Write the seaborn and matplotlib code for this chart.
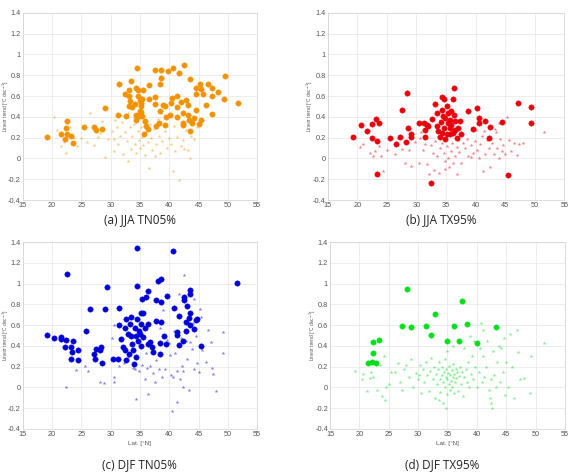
import matplotlib
matplotlib.use("Agg")
import matplotlib.pyplot as plt
import pandas as pd
import seaborn as sns

# (lat, trend) pairs, significant = big dots
jja_tn05_sig = [
    (19.1, 0.21), (21.6, 0.23), (22.2, 0.19), (22.4, 0.29), (22.5, 0.36), (22.5, 0.23),
    (23.3, 0.22), (23.5, 0.15), (25.5, 0.30), (27.2, 0.30), (27.5, 0.27), (28.5, 0.28),
    (29.1, 0.48), (31.2, 0.42), (31.4, 0.72), (32.5, 0.62), (32.7, 0.41), (33.4, 0.74),
    (33.2, 0.66), (33.2, 0.60), (33.3, 0.55), (33.2, 0.50), (33.6, 0.49), (34.2, 0.52),
    (34.4, 0.68), (34.6, 0.66), (34.5, 0.87), (34.4, 0.42), (34.4, 0.37), (34.7, 0.60),
    (35.0, 0.56), (35.2, 0.50), (35.2, 0.45), (35.4, 0.41), (35.0, 0.46), (34.9, 0.41),
    (35.5, 0.66), (35.3, 0.57), (35.2, 0.53), (35.7, 0.23), (35.9, 0.36), (36.1, 0.31),
    (36.3, 0.28), (36.5, 0.71), (36.5, 0.57), (37.5, 0.52), (37.6, 0.59), (37.6, 0.85),
    (37.8, 0.31), (38.3, 0.34), (38.4, 0.46), (38.6, 0.85), (38.6, 0.77), (38.4, 0.72),
    (39.0, 0.51), (39.2, 0.32), (39.3, 0.50), (39.5, 0.40), (39.8, 0.84), (40.1, 0.42),
    (40.3, 0.53), (40.5, 0.58), (40.6, 0.87), (41.3, 0.60), (41.4, 0.49), (41.4, 0.40),
    (41.7, 0.82), (42.0, 0.54), (42.3, 0.44), (42.3, 0.34), (42.4, 0.32), (42.6, 0.90),
    (42.9, 0.56), (43.2, 0.51), (43.2, 0.42), (43.4, 0.37), (43.5, 0.26), (43.6, 0.76),
    (43.9, 0.34), (44.3, 0.39), (44.5, 0.68), (44.6, 0.62), (44.6, 0.47), (45.1, 0.33),
    (45.3, 0.72), (45.5, 0.67), (45.7, 0.62), (45.5, 0.37), (46.3, 0.51), (46.7, 0.72),
    (47.3, 0.68), (47.3, 0.60), (47.3, 0.43), (48.3, 0.64), (49.3, 0.57), (49.5, 0.79),
    (51.7, 0.53),
]
jja_tn05_ns = [
    (20.3, 0.40), (20.8, 0.27), (21.5, 0.12), (22.4, 0.05), (23.0, 0.30), (23.8, 0.20),
    (24.3, 0.12), (26.0, 0.16), (26.4, 0.44), (27.1, 0.13), (27.8, 0.21), (28.5, 0.36),
    (29.0, 0.01), (30.3, 0.26), (30.5, 0.07), (30.5, 0.19), (31.0, 0.30), (31.3, 0.14),
    (31.6, 0.22), (32.0, 0.35), (32.1, 0.04), (32.5, 0.25), (32.8, 0.17), (33.0, -0.02),
    (33.3, 0.30), (33.5, 0.09), (33.7, 0.22), (34.0, 0.33), (34.2, 0.14), (34.4, 0.05),
    (34.6, 0.26), (34.8, 0.18), (35.0, 0.10), (35.2, 0.30), (35.4, 0.21), (35.6, 0.13),
    (35.8, 0.03), (36.0, 0.25), (36.3, 0.16), (36.6, -0.09), (36.9, 0.20), (37.1, 0.08),
    (37.4, 0.28), (37.8, 0.14), (38.2, 0.22), (38.5, 0.05), (38.8, 0.17), (39.2, 0.26),
    (39.6, 0.10), (40.0, 0.20), (40.3, 0.14), (40.6, -0.12), (41.0, 0.07), (41.3, 0.21),
    (41.6, -0.21), (42.0, 0.12), (42.3, 0.18), (42.8, 0.27), (43.2, 0.08), (43.5, 0.00),
    (43.8, 0.22), (44.3, 0.19), (44.7, 0.30), (45.2, 0.33), (35.5, 0.35), (34.0, 0.40),
    (36.8, 0.33), (31.8, 0.42), (33.0, 0.44), (29.5, 0.19), (28.2, 0.24), (25.0, 0.20),
    (22.0, 0.16), (38.0, 0.38), (40.8, 0.31), (42.5, 0.09), (30.8, 0.37), (37.5, 0.02),
]

jja_tx95_sig = [
    (19.3, 0.21), (20.6, 0.32), (21.6, 0.26), (22.4, 0.20), (22.5, 0.33), (23.2, 0.38),
    (23.3, 0.17), (23.7, 0.34), (23.4, -0.15), (25.6, 0.20), (26.5, 0.14), (27.3, 0.21),
    (27.6, 0.47), (28.4, 0.63), (28.3, 0.16), (28.6, 0.29), (29.1, 0.23), (29.1, 0.21),
    (30.5, 0.34), (31.3, 0.34), (31.5, 0.27), (31.5, 0.21), (31.8, 0.32), (32.0, 0.31),
    (32.4, -0.24), (32.6, 0.38), (33.1, 0.52), (33.4, 0.44), (33.5, 0.31), (33.7, 0.26),
    (33.9, 0.21), (34.1, 0.35), (34.3, 0.47), (34.4, 0.59), (34.5, 0.41), (34.7, 0.57),
    (34.7, 0.29), (34.9, 0.39), (35.1, 0.23), (35.2, 0.50), (35.3, 0.34), (35.4, 0.44),
    (35.6, 0.29), (35.7, 0.37), (35.8, 0.46), (35.9, 0.32), (36.1, 0.24), (36.2, 0.57),
    (36.4, 0.68), (36.4, 0.42), (36.5, 0.36), (36.6, 0.27), (36.8, 0.20), (37.1, 0.29),
    (37.4, 0.36), (37.6, 0.23), (38.7, 0.46), (39.6, 0.28), (40.2, 0.48), (40.5, 0.39),
    (40.6, 0.34), (41.6, 0.36), (42.2, 0.20), (42.5, 0.30), (44.5, 0.35), (45.5, -0.16),
    (47.2, 0.53), (49.3, 0.49), (49.3, 0.34), (34.3, 0.24), (34.8, 0.19), (35.6, 0.23),
]
jja_tx95_ns = [
    (20.4, 0.11), (21.0, 0.14), (22.1, 0.05), (22.6, 0.02), (23.6, 0.12), (24.0, 0.02),
    (24.4, -0.12), (25.1, 0.08), (26.3, 0.04), (26.8, 0.20), (27.5, 0.09), (28.1, -0.04),
    (29.0, -0.07), (29.8, 0.16), (30.4, -0.04), (30.6, 0.20), (31.1, 0.08), (31.4, 0.14),
    (31.8, -0.05), (32.2, -0.15), (32.5, 0.13), (32.8, 0.05), (33.0, -0.11), (33.2, 0.17),
    (33.5, 0.02), (33.8, -0.14), (34.0, 0.10), (34.3, 0.15), (34.6, 0.05), (34.9, -0.02),
    (35.1, 0.12), (35.3, 0.00), (35.5, -0.08), (35.8, 0.07), (36.0, 0.15), (36.2, -0.04),
    (36.5, 0.02), (36.8, 0.11), (37.2, 0.06), (37.5, -0.04), (37.9, 0.15), (38.2, 0.10),
    (38.5, 0.19), (38.8, 0.02), (39.2, 0.13), (39.5, 0.05), (39.9, 0.17), (40.2, 0.08),
    (40.5, 0.00), (40.8, 0.14), (41.0, 0.22), (41.3, -0.12), (41.6, 0.04), (41.9, 0.18),
    (42.2, 0.10), (42.5, -0.08), (42.8, 0.15), (43.1, 0.04), (43.4, 0.25), (43.6, 0.10),
    (43.9, 0.00), (44.2, 0.19), (44.4, 0.07), (44.7, 0.13), (45.0, 0.04), (45.3, 0.40),
    (45.6, 0.18), (46.0, 0.07), (46.5, 0.15), (47.0, 0.03), (47.4, 0.14), (48.0, 0.15),
    (51.5, 0.25), (30.8, 0.25), (28.8, 0.08), (23.0, 0.07), (36.9, -0.15), (34.8, -0.10),
    (40.0, 0.27), (42.6, 0.31), (44.0, 0.34), (39.3, 0.01), (37.0, 0.18), (33.6, 0.22),
    (35.9, 0.25), (41.5, 0.26), (43.2, 0.28),
]

djf_tn05_sig = [
    (19.1, 0.51), (20.4, 0.48), (21.6, 0.49), (21.6, 0.47), (22.2, 0.39), (22.4, 0.46),
    (22.5, 1.09), (23.3, 0.39), (23.3, 0.27), (23.5, 0.45), (23.4, 0.34), (24.4, 0.36),
    (24.4, 0.26), (25.8, 0.54), (26.4, 0.76), (27.1, 0.32), (27.3, 0.27), (27.5, 0.37),
    (28.1, 0.36), (28.4, 0.39), (28.6, 0.24), (29.0, 0.76), (29.3, 0.97), (30.4, 0.27),
    (31.2, 0.27), (31.4, 0.77), (31.5, 0.60), (31.8, 0.47), (32.1, 0.39), (32.4, 0.36),
    (32.5, 0.57), (32.7, 0.66), (32.7, 0.26), (33.0, 0.52), (33.2, 0.32), (33.3, 0.61),
    (33.5, 0.68), (33.5, 0.50), (33.7, 0.42), (33.8, 0.36), (34.0, 0.23), (34.1, 0.57),
    (34.3, 0.50), (34.4, 0.29), (34.5, 0.66), (34.5, 1.34), (34.5, 0.98), (34.7, 0.45),
    (34.9, 0.54), (35.0, 0.52), (35.1, 0.72), (35.2, 0.61), (35.2, 0.40), (35.4, 0.85),
    (35.5, 0.49), (35.6, 0.72), (35.8, 0.57), (36.1, 0.87), (36.3, 0.61), (36.4, 0.93),
    (36.4, 0.42), (36.7, 0.44), (37.0, 0.39), (37.2, 0.34), (37.7, 0.84), (37.8, 0.64),
    (38.1, 1.03), (38.4, 0.43), (38.5, 0.32), (38.6, 1.05), (38.6, 0.63), (38.6, 0.82),
    (39.1, 0.50), (39.5, 0.42), (39.7, 0.88), (40.6, 1.32), (40.8, 0.77), (41.3, 0.51),
    (41.4, 0.53), (41.6, 0.69), (41.7, 0.41), (42.4, 0.45), (42.6, 0.84), (42.6, 0.87),
    (42.8, 0.54), (42.9, 0.63), (43.1, 0.79), (43.3, 0.67), (43.5, 0.72), (43.5, 0.90),
    (43.6, 0.94), (43.5, 0.60), (44.3, 0.56), (44.6, 0.65), (44.7, 0.66), (45.5, 0.40),
    (51.6, 1.01),
]
djf_tn05_ns = [
    (22.4, 0.00), (24.0, 0.17), (25.6, 0.21), (26.1, 0.16), (28.2, 0.05), (28.9, 0.04),
    (30.5, 0.05), (30.6, 0.10), (30.3, 0.48), (30.5, 0.60), (31.5, 0.21), (32.3, 0.24),
    (33.0, 0.29), (33.8, 0.19), (34.2, 0.18), (34.3, -0.11), (34.8, 0.16), (35.3, 0.22),
    (35.9, 0.08), (36.2, 0.19), (36.4, -0.06), (36.8, 0.21), (37.3, 0.14), (37.5, 0.05),
    (37.8, 0.26), (38.3, 0.18), (38.7, 0.10), (39.0, 0.75), (39.2, 0.18), (39.6, 0.46),
    (40.1, 0.31), (40.3, 0.12), (40.5, -0.23), (40.6, 0.10), (40.8, 0.54), (41.0, 0.33),
    (41.3, 0.16), (41.4, -0.14), (41.6, 0.90), (41.8, 0.08), (42.0, 0.48), (42.2, 0.21),
    (42.3, 0.00), (42.4, 0.16), (42.6, 1.08), (42.8, 0.45), (43.0, 0.27), (43.3, -0.02),
    (43.6, 0.44), (43.9, 0.37), (44.2, 0.85), (44.3, 0.18), (44.5, 0.50), (44.8, 0.24),
    (45.0, 0.15), (45.2, 0.76), (45.4, 0.68), (45.6, 0.36), (46.3, 0.25), (46.6, 0.55),
    (47.1, 0.44), (47.3, 0.19), (47.4, 0.13), (48.0, -0.03), (49.1, 0.33), (49.2, 0.53),
    (44.0, 0.62), (38.5, 0.57), (40.0, 0.43), (36.0, 0.33),
]

djf_tx95_sig = [
    (21.4, 0.24), (22.1, 0.25), (22.3, 0.33), (22.3, 0.44), (22.8, 0.24), (23.3, 0.46),
    (27.3, 0.59), (28.1, 0.95), (28.8, 0.58), (31.4, 0.59), (32.2, 0.51), (32.8, 0.71),
    (34.9, 0.45), (36.1, 0.59), (37.0, 0.45), (37.4, 0.83), (38.4, 0.61), (40.0, 0.43),
    (43.3, 0.58),
]
djf_tx95_ns = [
    (19.2, 0.16), (20.4, 0.08), (20.6, 0.13), (21.3, -0.03), (21.8, 0.09), (22.4, 0.10),
    (23.0, -0.02), (23.5, 0.22), (23.8, -0.08), (24.2, 0.30), (24.5, 0.00), (24.3, -0.12),
    (25.4, 0.15), (26.0, 0.15), (26.5, 0.24), (27.0, 0.05), (27.3, -0.02), (27.6, 0.18),
    (28.0, 0.22), (28.4, 0.10), (28.8, 0.27), (29.2, 0.00), (29.6, 0.14), (30.0, 0.08),
    (30.3, 0.22), (30.5, -0.05), (30.8, 0.18), (31.0, 0.05), (31.3, 0.25), (31.5, 0.12),
    (31.8, -0.03), (32.0, 0.16), (32.2, 0.28), (32.5, 0.08), (32.7, 0.20), (32.9, -0.10),
    (33.0, 0.13), (33.2, 0.03), (33.4, 0.18), (33.5, 0.25), (33.7, 0.08), (33.8, -0.04),
    (34.0, 0.12), (34.1, 0.20), (34.2, 0.05), (34.3, -0.15), (34.4, 0.15), (34.5, 0.00),
    (34.6, 0.27), (34.7, 0.10), (34.8, 0.18), (34.9, -0.06), (35.0, 0.08), (35.1, 0.14),
    (35.2, 0.03), (35.3, 0.21), (35.4, -0.02), (35.5, 0.12), (35.6, 0.06), (35.7, 0.17),
    (35.8, 0.00), (35.9, 0.10), (36.0, 0.23), (36.1, -0.05), (36.2, 0.13), (36.3, 0.05),
    (36.4, 0.18), (36.5, 0.09), (36.7, 0.15), (36.8, -0.03), (37.0, 0.11), (37.2, 0.20),
    (37.3, 0.03), (37.5, 0.15), (37.7, -0.08), (37.9, 0.10), (38.1, 0.18), (38.3, 0.05),
    (38.5, 0.25), (38.7, 0.00), (39.0, 0.13), (39.2, 0.30), (39.4, 0.08), (39.7, 0.20),
    (40.0, 0.00), (40.3, 0.15), (40.5, 0.38), (40.7, 0.62), (40.9, 0.05), (41.1, 0.30),
    (41.3, 0.10), (41.6, 0.20), (41.8, 0.45), (42.0, -0.02), (42.2, -0.10), (42.4, -0.15),
    (42.6, -0.20), (42.5, 0.08), (42.8, 0.35), (43.0, 0.12), (43.2, 0.00), (43.4, 0.25),
    (43.7, 0.40), (44.0, 0.05), (44.2, 0.38), (44.4, 0.15), (44.6, 0.48), (44.8, -0.07),
    (45.0, 0.25), (45.3, 0.00), (45.6, 0.52), (46.0, 0.20), (46.4, -0.10), (46.8, 0.55),
    (47.1, 0.34), (47.3, 0.08), (48.0, 0.09), (49.0, -0.05), (49.2, 0.30), (51.5, 0.43),
    (36.0, 0.40), (35.0, 0.35), (37.8, 0.38), (33.5, -0.12), (34.7, -0.20), (30.2, 0.12),
    (25.0, 0.03), (22.0, 0.15), (39.5, 0.45), (38.8, 0.50), (41.0, 0.55),
]

panels = [
    ("(a) JJA TN05%", jja_tn05_sig, jja_tn05_ns, "#f39200"),
    ("(b) JJA TX95%", jja_tx95_sig, jja_tx95_ns, "#e8000b"),
    ("(c) DJF TN05%", djf_tn05_sig, djf_tn05_ns, "#0000d8"),
    ("(d) DJF TX95%", djf_tx95_sig, djf_tx95_ns, "#00e01a"),
]

# axes boxes in figure fractions [left, bottom, width, height]
boxes = [
    [0.040, 0.578, 0.411, 0.395],
    [0.575, 0.578, 0.415, 0.395],
    [0.040, 0.095, 0.411, 0.394],
    [0.579, 0.095, 0.412, 0.394],
]
caption_pos = [(0.245, 0.536), (0.775, 0.536), (0.245, 0.019), (0.775, 0.019)]

sns.set_style("white")
plt.rcParams['font.family'] = ['Liberation Sans', 'DejaVu Sans']

fig = plt.figure(figsize=(5.7, 4.74), dpi=100)

for i, (title, sig, ns, color) in enumerate(panels):
    ax = fig.add_axes(boxes[i])
    df_ns = pd.DataFrame(ns, columns=["lat", "trend"])
    df_sig = pd.DataFrame(sig, columns=["lat", "trend"])
    sns.scatterplot(data=df_ns, x="lat", y="trend", ax=ax, marker="*", s=8,
                    color=color, alpha=0.5, linewidth=0, zorder=2)
    sns.scatterplot(data=df_sig, x="lat", y="trend", ax=ax, marker="o", s=15,
                    color=color, edgecolor=color, linewidth=0.3, zorder=3)
    ax.set_xlim(15, 55)
    ax.set_ylim(-0.4, 1.4)
    ax.set_xticks(range(15, 56, 5))
    ax.set_yticks([-0.4, -0.2, 0, 0.2, 0.4, 0.6, 0.8, 1, 1.2, 1.4])
    ax.set_yticklabels(["-0.4", "-0.2", "0", "0.2", "0.4", "0.6", "0.8", "1", "1.2", "1.4"])
    ax.grid(True, color="#e6e6e6", linewidth=0.5)
    ax.set_axisbelow(True)
    ax.tick_params(labelsize=5.3, colors="#555555", length=1.5, width=0.4,
                   direction="in", pad=1.5)
    for sp in ax.spines.values():
        sp.set_color("#d0d0d0")
        sp.set_linewidth(0.5)
    ax.set_ylabel("Linear trend [\u00b0C dec$^{-1}$]", fontsize=3.5, color="#555555")
    ax.yaxis.set_label_coords(-0.052, 0.5)
    if i >= 2:
        ax.set_xlabel("Lat. [\u00b0N]", fontsize=4.5, color="#555555", labelpad=2)
    else:
        ax.set_xlabel("")
    fig.text(caption_pos[i][0], caption_pos[i][1], title, ha="center", va="center",
             fontsize=8.5, family="Open Sans", color="#222222")

fig.savefig("out.png", dpi=100)
